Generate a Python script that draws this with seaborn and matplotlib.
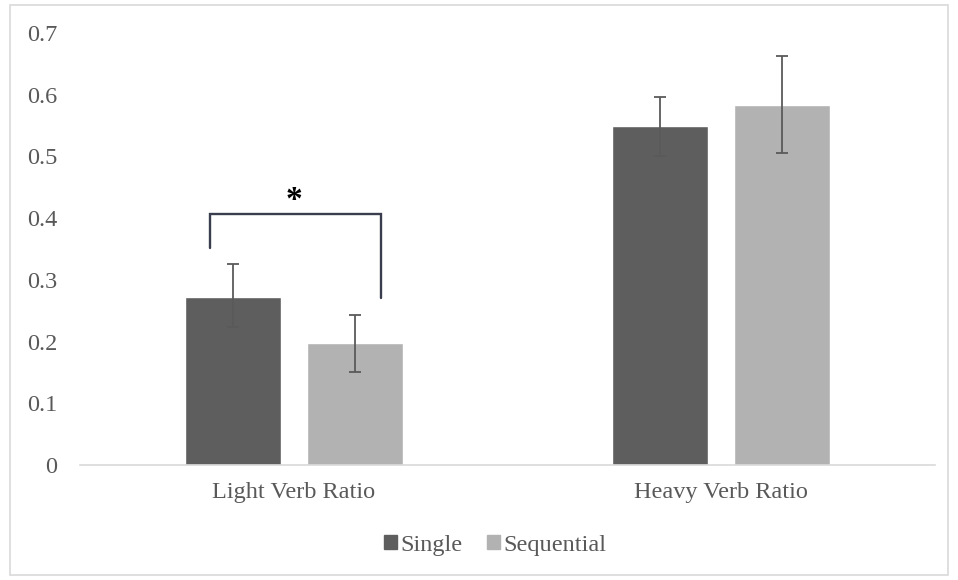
import numpy as np
import pandas as pd
import seaborn as sns
import matplotlib.pyplot as plt
from matplotlib.patches import Rectangle

# Data
categories = ["Light Verb Ratio", "Heavy Verb Ratio"]
groups = ["Single", "Sequential"]
single_means = [0.273, 0.549]
sequential_means = [0.197, 0.584]
single_err_low = [0.224, 0.501]
single_err_high = [0.325, 0.596]
sequential_err_low = [0.150, 0.506]
sequential_err_high = [0.243, 0.663]
y_ticks = [0, 0.1, 0.2, 0.3, 0.4, 0.5, 0.6, 0.7]
y_tick_labels = ["0", "0.1", "0.2", "0.3", "0.4", "0.5", "0.6", "0.7"]

sns.set_theme(style="white")
plt.rcParams["font.family"] = ["Liberation Serif", "DejaVu Serif"]

df = pd.DataFrame({
    "Category": categories * 2,
    "Group": [groups[0]] * 2 + [groups[1]] * 2,
    "Value": single_means + sequential_means,
})

fig = plt.figure(figsize=(9.58, 5.8), dpi=100)
ax = fig.add_axes([80 / 958, 115 / 580, 855 / 958, 432 / 580])

palette = {"Single": "#5e5e5e", "Sequential": "#b2b2b2"}
sns.barplot(data=df, x="Category", y="Value", hue="Group", order=categories,
            hue_order=groups, palette=palette, width=0.57, gap=0.21,
            saturation=1, errorbar=None, legend=False, ax=ax)

# Error bars placed on bar centres taken from the drawn patches
lows = [single_err_low, sequential_err_low]
highs = [single_err_high, sequential_err_high]
means = [single_means, sequential_means]
bar_containers = list(ax.containers)
for g, container in enumerate(bar_containers):
    for i, bar in enumerate(container.patches):
        xc = bar.get_x() + bar.get_width() / 2
        m = means[g][i]
        ax.errorbar(xc, m, yerr=[[m - lows[g][i]], [highs[g][i] - m]],
                    fmt="none", ecolor="#5a5a5a", elinewidth=1.3,
                    capsize=4.5, capthick=1.3, zorder=3)

# Significance bracket over the light verb pair
bx = [-0.197, -0.197, 0.203, 0.203]
by = [0.351, 0.407, 0.407, 0.270]
ax.plot(bx, by, color="#3a3d4d", lw=1.7, solid_joinstyle="miter", zorder=4)
ax.text(0.0, 0.428, "*", ha="center", va="center", fontsize=24,
        fontweight="bold", color="black")

ax.set_xlim(-0.5, 1.5)
ax.set_ylim(0, 0.7)
ax.set_yticks(y_ticks)
ax.set_yticklabels(y_tick_labels)
ax.set_xlabel("")
ax.set_ylabel("")
ax.tick_params(axis="both", length=0, labelsize=17.5, labelcolor="#595959")
ax.tick_params(axis="y", pad=16.5)
ax.tick_params(axis="x", pad=12.5)
for side in ["top", "right", "left"]:
    ax.spines[side].set_visible(False)
ax.spines["bottom"].set_color("#d9d9d9")
ax.spines["bottom"].set_linewidth(1.2)

handles = [Rectangle((0, 0), 1, 1, color=palette[g]) for g in groups]
fig.legend(handles, groups, loc="center", bbox_to_anchor=(495 / 958, 1 - 545 / 580),
           ncol=2, frameon=False, fontsize=17.5, labelcolor="#595959",
           handlelength=0.55, handleheight=0.55, handletextpad=0.12,
           columnspacing=1.0, borderpad=0, borderaxespad=0)

# Outer chart border
fig.patches.append(Rectangle((10 / 958, 5 / 580), 938 / 958, 570 / 580,
                             transform=fig.transFigure, fill=False,
                             edgecolor="#d9d9d9", lw=1.2))

fig.savefig("out.png", dpi=100)
